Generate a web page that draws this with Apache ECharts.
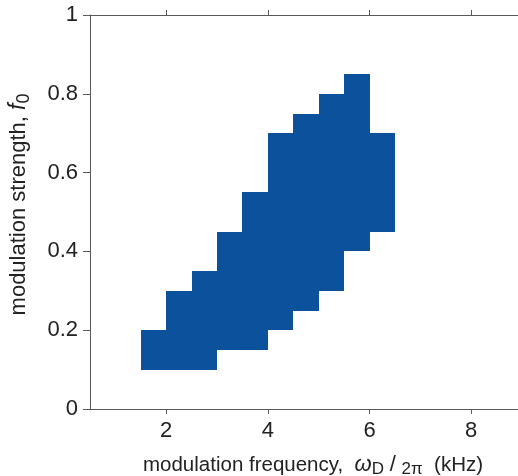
<!DOCTYPE html>
<html lang="en">

<head>
    <meta charset="utf-8">
    <title>modulation strength vs frequency</title>
    <script src="https://cdn.jsdelivr.net/npm/echarts@6/dist/echarts.min.js"></script>
    <style>
        html,
        body {
            margin: 0;
            padding: 0;
            background-color: #ffffff;
        }

        #chart {
            width: 518px;
            height: 476px;
        }
    </style>
</head>

<body>
    <div id="chart"></div>
    <script>
        // left edge of each frequency bin (kHz), each bin 0.5 wide
        var freqStart = [1.5, 2, 2.5, 3, 3.5, 4, 4.5, 5, 5.5, 6];
        var binWidth = 0.5;
        // lower and upper modulation strength of the region for each bin
        var strengthLow = [0.1, 0.1, 0.1, 0.15, 0.15, 0.2, 0.25, 0.3, 0.4, 0.45];
        var strengthHigh = [0.2, 0.3, 0.35, 0.45, 0.55, 0.7, 0.75, 0.8, 0.85, 0.7];
        var xTicks = [2, 4, 6, 8];

        var axisColor = '#5a5a5a';
        var textColor = '#222222';
        var fontFamily = 'Liberation Sans, Arial, sans-serif';

        var cells = [];
        for (var i = 0; i < freqStart.length; i++) {
            cells.push([freqStart[i], freqStart[i] + binWidth, strengthLow[i], strengthHigh[i]]);
        }

        var myChart = echarts.init(document.getElementById('chart'));

        var option = {
            animation: false,
            grid: {
                left: 90,
                right: -4,
                top: 15,
                bottom: 67,
                outerBoundsMode: 'none'
            },
            xAxis: [
                {
                    type: 'value',
                    position: 'bottom',
                    min: 0.5,
                    max: 9,
                    splitLine: { show: false },
                    axisLine: { show: true, lineStyle: { color: axisColor, width: 1 } },
                    axisTick: { show: true, length: 5, customValues: xTicks, lineStyle: { color: axisColor } },
                    axisLabel: {
                        customValues: xTicks,
                        color: textColor,
                        fontSize: 22,
                        fontFamily: fontFamily,
                        margin: 11
                    },
                    name: 'modulation frequency,  {w|ω}{sub|D} {sl|/} {sub|2π}  (kHz)',
                    nameLocation: 'middle',
                    nameGap: 44,
                    nameTextStyle: {
                        color: textColor,
                        fontSize: 20.5,
                        fontFamily: fontFamily,
                        padding: [0, 0, 0, 14],
                        lineHeight: 24,
                        rich: {
                            w: { fontSize: 22, fontStyle: 'italic', color: textColor, fontFamily: fontFamily, lineHeight: 24 },
                            sl: { fontSize: 22, color: textColor, fontFamily: fontFamily, lineHeight: 24 },
                            sub: { fontSize: 17, color: textColor, fontFamily: fontFamily, lineHeight: 17, padding: [9, 0, 0, 0] }
                        }
                    }
                },
                {
                    type: 'value',
                    position: 'top',
                    min: 0.5,
                    max: 9,
                    splitLine: { show: false },
                    axisLine: { show: true, lineStyle: { color: axisColor, width: 1 } },
                    axisTick: { show: true, length: 5, customValues: xTicks, lineStyle: { color: axisColor } },
                    axisLabel: { show: false }
                }
            ],
            yAxis: {
                type: 'value',
                min: 0,
                max: 1,
                interval: 0.2,
                splitLine: { show: false },
                axisLine: { show: true, lineStyle: { color: axisColor, width: 1 } },
                axisTick: { show: true, length: 7, lineStyle: { color: axisColor } },
                axisLabel: {
                    color: textColor,
                    fontSize: 22,
                    fontFamily: fontFamily,
                    margin: 12
                },
                name: 'modulation strength, {i|f}{sub|0}',
                nameLocation: 'middle',
                nameGap: 58,
                nameTextStyle: {
                    color: textColor,
                    fontSize: 22,
                    fontFamily: fontFamily,
                    padding: [0, 0, 0, 15],
                    lineHeight: 26,
                    rich: {
                        i: { fontSize: 23, fontStyle: 'italic', color: textColor, fontFamily: fontFamily, lineHeight: 26 },
                        sub: { fontSize: 18, color: textColor, fontFamily: fontFamily, lineHeight: 18, padding: [10, 0, 0, 0] }
                    }
                }
            },
            series: [
                {
                    type: 'custom',
                    xAxisIndex: 0,
                    data: cells,
                    renderItem: function (params, api) {
                        var p0 = api.coord([api.value(0), api.value(3)]);
                        var p1 = api.coord([api.value(1), api.value(2)]);
                        var x0 = Math.round(p0[0]);
                        var x1 = Math.round(p1[0]);
                        var y0 = Math.round(p0[1]);
                        var y1 = Math.round(p1[1]);
                        return {
                            type: 'rect',
                            shape: { x: x0, y: y0, width: x1 - x0, height: y1 - y0 },
                            style: { fill: '#0b519b' }
                        };
                    }
                }
            ]
        };
        myChart.setOption(option);
    </script>
</body>

</html>
